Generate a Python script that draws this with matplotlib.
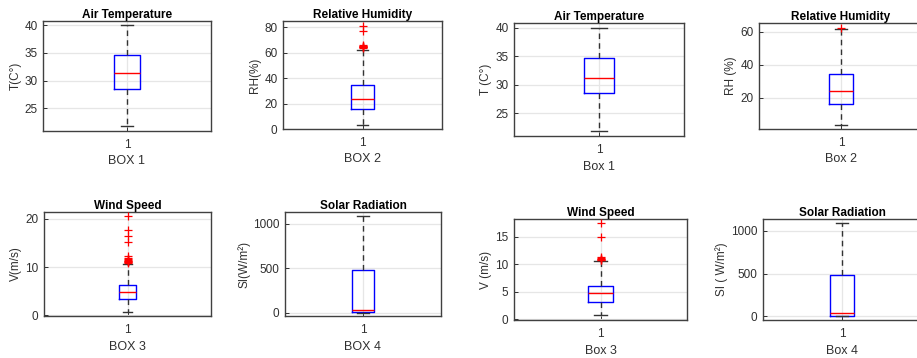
import matplotlib.pyplot as plt

plt.rcParams["font.family"] = ["Liberation Sans", "DejaVu Sans"]

# -----------------------------------
# DATA (box statistics)
# -----------------------------------

titles = ["Air Temperature", "Relative Humidity", "Air Temperature", "Relative Humidity",
          "Wind Speed", "Solar Radiation", "Wind Speed", "Solar Radiation"]
ylabels = ["T(C°)", "RH(%)", "T (C°)", "RH (%)",
           "V(m/s)", "SI(W/m²)", "V (m/s)", "SI ( W/m²)"]
xlabels = ["BOX 1", "BOX 2", "Box 1", "Box 2", "BOX 3", "BOX 4", "Box 3", "Box 4"]

whislo = [21.7, 3.2, 21.8, 3.6, 0.7, 0, 0.7, 0]
q1 = [28.4, 16.0, 28.6, 16.0, 3.3, 5, 3.2, 6]
med = [31.3, 24.0, 31.2, 24.2, 4.85, 34, 4.7, 35]
q3 = [34.6, 34.5, 34.6, 34.5, 6.25, 481, 6.07, 484]
whishi = [40.0, 62.5, 40.0, 61.8, 10.6, 1091, 10.5, 1090]
fliers = [
    [],
    [81.0, 77.5, 66.0, 65.5, 65.0, 64.8, 64.5, 64.2, 63.8],
    [],
    [62.3],
    [20.6, 17.6, 16.4, 15.2, 12.3, 11.8, 11.6, 11.4, 11.3, 11.2, 11.1, 11.0, 10.9],
    [],
    [17.4, 15.0, 11.3, 11.1, 11.0, 10.9, 10.8, 10.7],
    [],
]

ylims = [(20.85, 40.8), (0, 85), (21.0, 40.8), (1.0, 65.3),
         (-0.15, 21.4), (-38, 1132), (-0.12, 18.2), (-43, 1137)]
yticks = [[25, 30, 35, 40], [0, 20, 40, 60, 80], [25, 30, 35, 40], [20, 40, 60],
          [0, 10, 20], [0, 500, 1000], [0, 5, 10, 15], [0, 500, 1000]]

# -----------------------------------
# LAYOUT (pixel boxes: left, right, top, bottom)
# -----------------------------------

W, H = 917, 358
boxes_px = [(43, 211, 21, 131), (283, 442, 21, 129), (514, 684, 23, 136), (759, 923, 23, 129),
            (44, 211, 212, 316), (285, 441, 212, 316), (514, 687, 219, 320), (763, 921, 219, 320)]
widths = [0.15, 0.15, 0.18, 0.15, 0.10, 0.145, 0.145, 0.15]

fig = plt.figure(figsize=(W / 100, H / 100), dpi=100)

AX_COLOR = "#303030"

for i in range(8):
    l, r, t, b = boxes_px[i]
    ax = fig.add_axes([l / W, 1 - b / H, (r - l) / W, (b - t) / H])

    stats = [{
        "med": med[i], "q1": q1[i], "q3": q3[i],
        "whislo": whislo[i], "whishi": whishi[i],
        "fliers": fliers[i],
    }]

    ax.bxp(
        stats,
        positions=[1],
        widths=widths[i],
        boxprops=dict(color="#0000ff", linewidth=1.0),
        medianprops=dict(color="#ff0000", linewidth=1.0),
        whiskerprops=dict(color="#333333", linestyle=(0, (4, 3)), linewidth=1.0),
        capprops=dict(color="#333333", linewidth=1.0),
        flierprops=dict(marker="+", markeredgecolor="#ff0000", markersize=6,
                        markeredgewidth=0.9, linestyle="none"),
        capwidths=widths[i] * 0.5,
        zorder=3,
    )

    ax.set_xlim(0.5, 1.5)
    ax.set_ylim(*ylims[i])
    ax.set_xticks([1])
    ax.set_xticklabels(["1"])
    ax.set_yticks(yticks[i])

    ax.grid(True, color="#e6e6e6", linewidth=0.9, zorder=0)
    ax.set_axisbelow(True)

    ax.tick_params(direction="in", length=3, width=0.7, colors=AX_COLOR,
                   labelsize=8.5, pad=4, top=False, right=False)
    ax.tick_params(axis="x", pad=6)
    for sp in ax.spines.values():
        sp.set_color("#404040")
        sp.set_linewidth(1.0)

    ax.set_title(titles[i], fontsize=8.5, fontweight="bold", pad=2)
    ax.set_ylabel(ylabels[i], fontsize=8.5, color=AX_COLOR, labelpad=2)
    ax.set_xlabel(xlabels[i], fontsize=9, color=AX_COLOR, labelpad=3)

fig.savefig("out.png", dpi=100)
